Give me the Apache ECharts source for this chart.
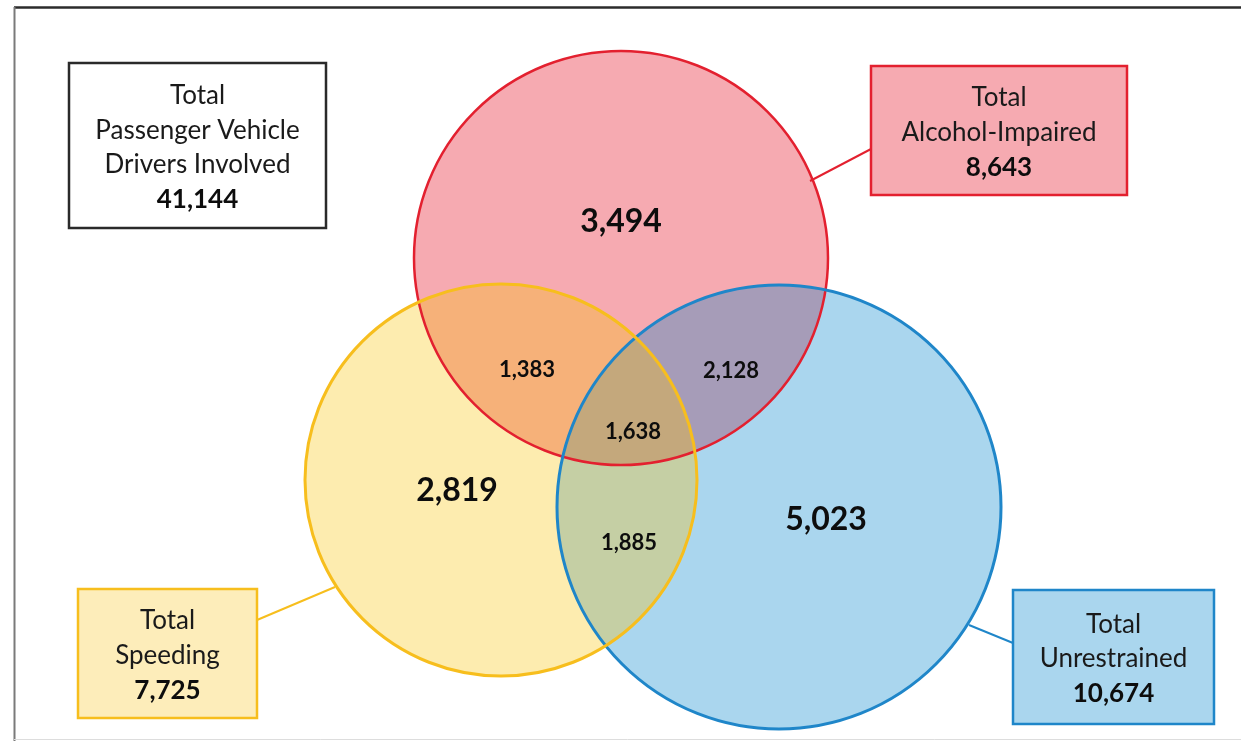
<!DOCTYPE html>
<html>
<head>
<meta charset="utf-8">
<script src="https://cdn.jsdelivr.net/npm/echarts@6/dist/echarts.min.js"></script>
<style>
  html, body { margin: 0; padding: 0; background: #fff; }
  #chart { width: 1241px; height: 741px; }
</style>
</head>
<body>
<div id="chart"></div>
<script>
// ---------------- DATA ----------------
const regionNames = ['Alcohol-Impaired only', 'Speeding only', 'Unrestrained only',
  'Alcohol-Impaired & Speeding', 'Alcohol-Impaired & Unrestrained', 'Speeding & Unrestrained', 'All three'];
const regionValues = [3494, 2819, 5023, 1383, 2128, 1885, 1638];
const totalNames = ['Passenger Vehicle Drivers Involved', 'Alcohol-Impaired', 'Speeding', 'Unrestrained'];
const totalLines = [['Total', 'Passenger Vehicle', 'Drivers Involved'], ['Total', 'Alcohol-Impaired'], ['Total', 'Speeding'], ['Total', 'Unrestrained']];
const totalValues = [41144, 8643, 7725, 10674];

// ---------------- LAYOUT (positions / styles) ----------------
const circleLayout = [
  { cx: 621, cy: 258, r: 207, stroke: '#E3202F', width: 2.5 }, // Alcohol
  { cx: 501, cy: 480, r: 196, stroke: '#F7BE1D', width: 3 },   // Speeding
  { cx: 779, cy: 507, r: 222, stroke: '#1F86C9', width: 3 }    // Unrestrained
];
const regionSets = [[0], [1], [2], [0, 1], [0, 2], [1, 2], [0, 1, 2]];
const regionFill = ['#F6AAB1', '#FDECAF', '#AAD6EE', '#F6B179', '#A69CB8', '#C5CFA4', '#C4A87C'];
const regionLabelPos = [[621, 222], [457, 491], [826, 520], [527, 370], [731, 371], [629, 543], [633, 432]];
const regionFont = [32, 32, 32, 22, 22, 22, 22];
const boxLayout = [
  { x0: 69, y0: 63, x1: 326, y1: 228, fill: '#ffffff', stroke: '#2a2a2a', conn: null },
  { x0: 871, y0: 66, x1: 1127, y1: 195, fill: '#F6AAB1', stroke: '#E3202F', conn: [[810, 181], [871, 149]] },
  { x0: 78, y0: 589, x1: 257, y1: 718, fill: '#FDEDBA', stroke: '#F7BE1D', conn: [[335, 587], [257, 620]] },
  { x0: 1013, y0: 590, x1: 1214, y1: 724, fill: '#AAD6EE', stroke: '#1F86C9', conn: [[969, 625], [1013, 643]] }
];
const FONT = 'Lato, "Open Sans", sans-serif';

function fmt(v) { return v.toLocaleString('en-US'); }

// Convex intersection region of circles in `set`, returned as data-space points
function regionPoints(set) {
  const pts = [];
  const N = 1440;
  set.forEach(i => {
    const c = circleLayout[i];
    for (let k = 0; k < N; k++) {
      const a = (k / N) * Math.PI * 2;
      const x = c.cx + c.r * Math.cos(a), y = c.cy + c.r * Math.sin(a);
      let ok = true;
      set.forEach(j => {
        if (j === i) return;
        const d = circleLayout[j];
        if (Math.hypot(x - d.cx, y - d.cy) > d.r + 1e-6) ok = false;
      });
      if (ok) pts.push([x, y]);
    }
  });
  for (let a = 0; a < set.length; a++) for (let b = a + 1; b < set.length; b++) {
    const c1 = circleLayout[set[a]], c2 = circleLayout[set[b]];
    const dx = c2.cx - c1.cx, dy = c2.cy - c1.cy, d = Math.hypot(dx, dy);
    const l = (d * d + c1.r * c1.r - c2.r * c2.r) / (2 * d);
    const h = Math.sqrt(Math.max(0, c1.r * c1.r - l * l));
    const mx = c1.cx + l * dx / d, my = c1.cy + l * dy / d;
    [[mx + h * dy / d, my - h * dx / d], [mx - h * dy / d, my + h * dx / d]].forEach(p => {
      let ok = true;
      set.forEach(j => {
        const q = circleLayout[j];
        if (Math.hypot(p[0] - q.cx, p[1] - q.cy) > q.r + 0.01) ok = false;
      });
      if (ok) pts.push(p);
    });
  }
  let sx = 0, sy = 0;
  pts.forEach(p => { sx += p[0]; sy += p[1]; });
  sx /= pts.length; sy /= pts.length;
  pts.sort((p, q) => Math.atan2(p[1] - sy, p[0] - sx) - Math.atan2(q[1] - sy, q[0] - sx));
  return pts;
}

const chart = echarts.init(document.getElementById('chart'), null, { renderer: 'canvas' });

const option = {
  backgroundColor: '#ffffff',
  animation: false,
  grid: { left: 0, right: 0, top: 0, bottom: 0 },
  xAxis: { type: 'value', min: 0, max: 1241, show: false },
  yAxis: { type: 'value', min: 0, max: 741, inverse: true, show: false },
  graphic: [
    { type: 'line', z: 100, shape: { x1: 14, y1: 7.5, x2: 1241, y2: 7.5 }, style: { stroke: '#2b2b2b', lineWidth: 2.5 } },
    { type: 'line', z: 100, shape: { x1: 14.5, y1: 7, x2: 14.5, y2: 741 }, style: { stroke: '#7a7a7a', lineWidth: 2 } },
    { type: 'line', z: 100, shape: { x1: 14, y1: 739.5, x2: 1241, y2: 739.5 }, style: { stroke: '#dddddd', lineWidth: 1 } }
  ],
  series: [
    {
      name: 'regions', type: 'custom', z: 1, silent: true,
      data: regionValues.map((v, i) => ({ name: regionNames[i], value: [regionLabelPos[i][0], regionLabelPos[i][1], v] })),
      renderItem: function (params, api) {
        const i = params.dataIndex;
        const set = regionSets[i];
        if (set.length === 1) {
          const c = circleLayout[set[0]];
          const p = api.coord([c.cx, c.cy]);
          const r = api.size([c.r, c.r])[0];
          return { type: 'circle', shape: { cx: p[0], cy: p[1], r: r }, style: { fill: regionFill[i] } };
        }
        const pts = regionPoints(set).map(q => api.coord(q));
        return { type: 'polygon', shape: { points: pts }, style: { fill: regionFill[i] } };
      }
    },
    {
      name: 'outlines', type: 'custom', z: 2, silent: true,
      data: circleLayout.map((c, i) => ({ value: [c.cx, c.cy, c.r] })),
      renderItem: function (params, api) {
        const i = params.dataIndex;
        const c = circleLayout[i];
        const p = api.coord([api.value(0), api.value(1)]);
        const r = api.size([api.value(2), api.value(2)])[0];
        return {
          type: 'circle', z2: i === 1 ? 10 : 1,
          shape: { cx: p[0], cy: p[1], r: r },
          style: { fill: 'none', stroke: c.stroke, lineWidth: c.width, blend: i === 1 ? 'source-over' : 'multiply' }
        };
      }
    },
    {
      name: 'labels', type: 'custom', z: 3, silent: true,
      data: regionValues.map((v, i) => ({ name: regionNames[i], value: [regionLabelPos[i][0], regionLabelPos[i][1], v] })),
      renderItem: function (params, api) {
        const i = params.dataIndex;
        const p = api.coord([api.value(0), api.value(1)]);
        return {
          type: 'text',
          style: {
            x: p[0], y: p[1], text: fmt(api.value(2)), fill: '#0d0d0d',
            font: 'bold ' + regionFont[i] + 'px ' + FONT, align: 'center', verticalAlign: 'middle'
          }
        };
      }
    },
    {
      name: 'totals', type: 'custom', z: 4, silent: true,
      data: totalValues.map((v, i) => ({ name: totalNames[i], value: [(boxLayout[i].x0 + boxLayout[i].x1) / 2, (boxLayout[i].y0 + boxLayout[i].y1) / 2, v] })),
      renderItem: function (params, api) {
        const i = params.dataIndex;
        const b = boxLayout[i];
        const tl = api.coord([b.x0, b.y0]);
        const br = api.coord([b.x1, b.y1]);
        const children = [];
        if (b.conn) {
          const a = api.coord(b.conn[0]), e = api.coord(b.conn[1]);
          children.push({ type: 'line', shape: { x1: a[0], y1: a[1], x2: e[0], y2: e[1] }, style: { stroke: b.stroke, lineWidth: 2 } });
        }
        children.push({
          type: 'rect', shape: { x: tl[0], y: tl[1], width: br[0] - tl[0], height: br[1] - tl[1] },
          style: { fill: b.fill, stroke: b.stroke, lineWidth: 2.5 }
        });
        const lines = totalLines[i].concat([fmt(api.value(2))]);
        const lh = 34.7;
        const cx = (tl[0] + br[0]) / 2;
        const cy = (tl[1] + br[1]) / 2 + 2;
        lines.forEach((t, k) => {
          const y = cy + (k - (lines.length - 1) / 2) * lh;
          const bold = k === lines.length - 1;
          children.push({
            type: 'text', z2: 5,
            style: {
              x: cx, y: y, text: t, fill: bold ? '#0d0d0d' : '#1a1a1a',
              font: (bold ? 'bold ' : '') + '26px ' + FONT, align: 'center', verticalAlign: 'middle'
            }
          });
        });
        return { type: 'group', children: children };
      }
    }
  ]
};
chart.setOption(option);
</script>
</body>
</html>
